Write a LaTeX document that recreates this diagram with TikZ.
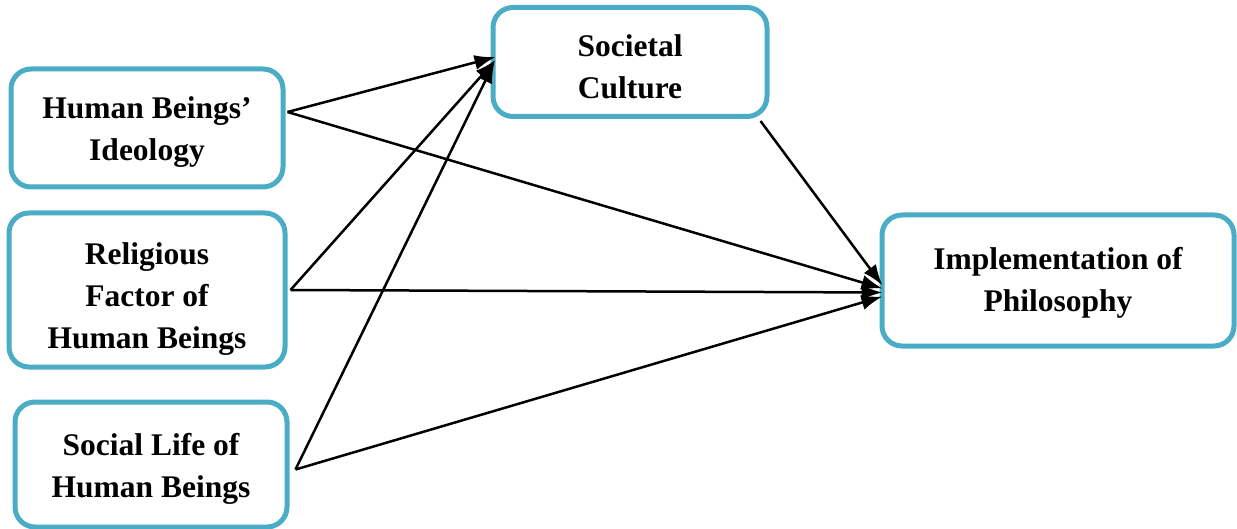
\documentclass[tikz,border=0pt]{standalone}
\usepackage{fontspec}
\setmainfont{Liberation Serif}
\usetikzlibrary{arrows.meta}
\definecolor{boxblue}{HTML}{4BACC6}
%invisible strut, pushes the text a bit down in the box
\newcommand{\padtop}[1]{\rule{0pt}{#1}}
\tikzset{factor/.style={draw=boxblue, line width=5pt, rounded corners=20pt, fill=white, align=center, inner sep=0pt,
font=\fontsize{31.5}{42}\selectfont\bfseries},
%all arrows are the same
link/.style={line width=2.5pt, -{Latex[length=21pt,width=15pt]}}}

\begin{document}
\begin{tikzpicture}[x=1pt,y=-1pt]
\useasboundingbox (0,0) rectangle (1237,529);
% factors on the left
\node[factor, minimum width=272pt, minimum height=118pt] (ideo) at (147,128) {\padtop{30pt}Human Beings’\\Ideology};
\node[factor, minimum width=276pt, minimum height=154pt] (relig) at (147,290) {\padtop{40pt}Religious\\Factor of\\Human Beings};
\node[factor, minimum width=272pt, minimum height=125pt] (social) at (151,464.5) {\padtop{30pt}Social Life of\\Human Beings};
% mediator and outcome
\node[factor, minimum width=274pt, minimum height=109pt] (cult) at (630,62) {\padtop{32pt}Societal\\Culture};
\node[factor, minimum width=352pt, minimum height=131pt] (impl) at (1058,280.5) {\padtop{26pt}Implementation of\\Philosophy};

% arrows to culture
\draw[link] ([xshift=2pt,yshift=16pt]ideo.east) -- ([xshift=5pt,yshift=5pt]cult.west);
\draw[link] ([xshift=3pt]relig.east) -- ([xshift=5pt,yshift=2pt]cult.west);
\draw[link] ([xshift=6pt,yshift=-5pt]social.east) -- ([xshift=4pt]cult.west);

% arrows to implementation
\draw[link] ([xshift=-9pt,yshift=-2pt]cult.south east) -- ([xshift=3pt,yshift=-5pt]impl.west);
\draw[link] ([xshift=2pt,yshift=16pt]ideo.east) -- ([xshift=3pt,yshift=-8pt]impl.west);
\draw[link] ([xshift=3pt]relig.east) -- ([xshift=3pt,yshift=-12pt]impl.west);
\draw[link] ([xshift=6pt,yshift=-5pt]social.east) -- ([xshift=3pt,yshift=-16pt]impl.west);

\end{tikzpicture}
\end{document}
